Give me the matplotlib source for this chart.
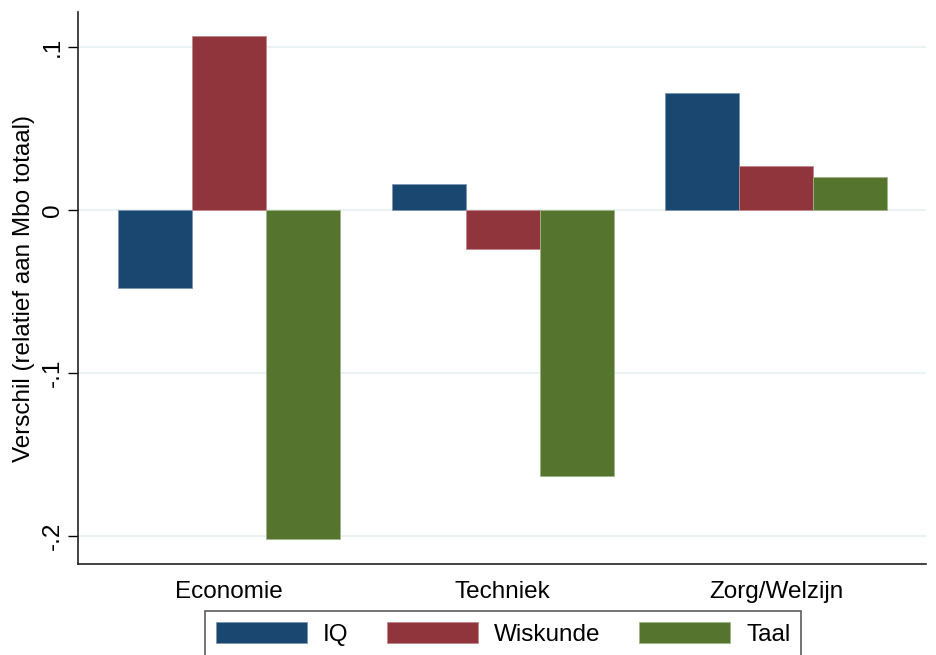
import matplotlib.pyplot as plt
import numpy as np

plt.rcParams["font.family"] = ["Liberation Sans", "DejaVu Sans"]

categories = ["Economie", "Techniek", "Zorg/Welzijn"]
series = ["IQ", "Wiskunde", "Taal"]
iq = [-0.048, 0.016, 0.072]
wiskunde = [0.107, -0.024, 0.027]
taal = [-0.202, -0.163, 0.020]
colors = ["#1a476f", "#90353b", "#55752f"]
edges = ["#7a97b5", "#c0888c", "#9fb588"]

yticks = [-0.2, -0.1, 0.0, 0.1]
ytick_labels = ["-.2", "-.1", "0", ".1"]

fs = 17.5

fig = plt.figure(figsize=(9.36, 6.55), dpi=100)
ax = fig.add_axes([78 / 936, 1 - 564 / 655, (926 - 78) / 936, (564 - 12) / 655])

x = np.arange(len(categories))
width = 0.2706
for i, (name, vals) in enumerate(zip(series, [iq, wiskunde, taal])):
    ax.bar(x + (i - 1) * width, vals, width, color=colors[i], edgecolor=edges[i],
           linewidth=0.6, label=name, zorder=3)

ax.set_xlim(-0.552, 2.548)
ax.set_ylim(-0.2172, 0.1215)
ax.set_yticks(yticks)
ax.set_yticklabels(ytick_labels, rotation=90, va="center")
ax.set_xticks(x)
ax.set_xticklabels(categories)
ax.tick_params(axis="x", length=0, labelsize=fs, pad=12)
ax.tick_params(axis="y", length=7, width=1, labelsize=fs, pad=3, direction="out")
ax.grid(axis="y", color="#eaf2f3", linewidth=1.5, zorder=0)
ax.set_axisbelow(True)
for side in ["top", "right"]:
    ax.spines[side].set_visible(False)
for side in ["left", "bottom"]:
    ax.spines[side].set_linewidth(1.2)
    ax.spines[side].set_color("#222222")
ax.set_ylabel("Verschil (relatief aan Mbo totaal)", fontsize=fs, labelpad=5)

leg = fig.legend(loc="upper center", bbox_to_anchor=(503 / 936, 1 - 611 / 655), ncol=3,
                 fontsize=fs, frameon=True, fancybox=False, handlelength=3.75,
                 handleheight=0.95, handletextpad=0.65, columnspacing=1.6,
                 borderpad=0.45, borderaxespad=0)
leg.get_frame().set_edgecolor("#333333")
leg.get_frame().set_linewidth(1.2)

fig.savefig("out.png", dpi=100)
